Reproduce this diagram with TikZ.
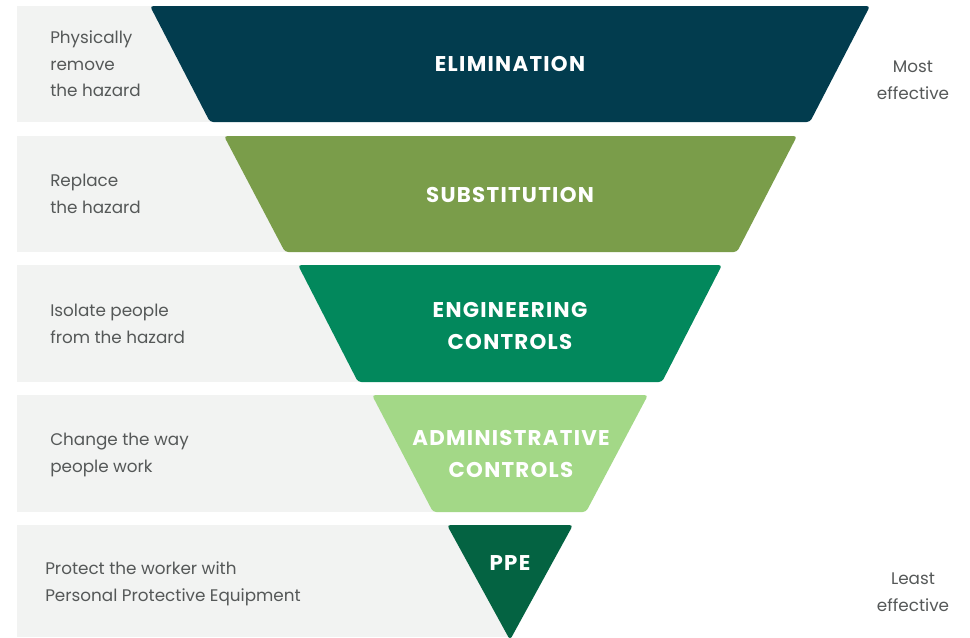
\documentclass[tikz,border=0pt]{standalone}
\usepackage{fontspec}
\setmainfont{Poppins}
\newfontfamily\headfont[LetterSpace=6]{Poppins}
\usepackage{xcolor}
\usepackage{tikz}

\definecolor{bandgrey}{HTML}{F2F3F2}
\definecolor{textgrey}{HTML}{555858}
\definecolor{elimcol}{HTML}{023C4E}
\definecolor{substcol}{HTML}{7A9D4A}
\definecolor{engcol}{HTML}{02885C}
\definecolor{admincol}{HTML}{A3D887}
\definecolor{ppecol}{HTML}{046342}

\tikzset{
  band/.style={fill=bandgrey},
  level/.style={rounded corners=2.5pt},
  leveltext/.style={text=white, align=center,
    font=\headfont\bfseries\fontsize{16}{23.5}\selectfont},
  sidetext/.style={text=textgrey, align=left, anchor=west, inner sep=0pt,
    font=\fontsize{12.6}{20}\selectfont},
  ratetext/.style={text=textgrey, align=center, inner sep=0pt,
    font=\fontsize{12.6}{20}\selectfont}
}

\begin{document}
\begin{tikzpicture}[x=0.75pt, y=-0.75pt]
\useasboundingbox (0,0) rectangle (970,637);

% grey bands behind the levels
\fill[band] (17,6) rectangle (510,122);
\fill[band] (17,136) rectangle (510,252);
\fill[band] (17,265) rectangle (510,382);
\fill[band] (17,395) rectangle (510,512);
\fill[band] (17,525) rectangle (510,637);

% the inverted pyramid
\fill[elimcol, level] (150,6) -- (870,6) -- (810,122) -- (210,122) -- cycle;
\fill[substcol, level] (224,136) -- (797,136) -- (737,252) -- (285,252) -- cycle;
\fill[engcol, level] (298,265) -- (722,265) -- (662,382) -- (358,382) -- cycle;
\fill[admincol, level] (372,395) -- (648,395) -- (586,512) -- (433,512) -- cycle;
\fill[ppecol, level] (447,525) -- (573,525) -- (510,640) -- cycle;

% level names
\node[leveltext] (elim) at (510,64) {ELIMINATION};
\node[leveltext] (subst) at (510,195) {SUBSTITUTION};
\node[leveltext] (eng) at (510,326) {ENGINEERING\\CONTROLS};
\node[leveltext] (admin) at (511,454) {ADMINISTRATIVE\\CONTROLS};
\node[leveltext] (ppe) at (510,563) {PPE};

% descriptions
\node[sidetext] (elimdesc) at (50,64) {Physically\\remove\\the hazard};
\node[sidetext] (substdesc) at (50,194) {Replace\\the hazard};
\node[sidetext] (engdesc) at (50,324) {Isolate people\\from the hazard};
\node[sidetext] (admindesc) at (50,455) {Change the way\\people work};
\node[sidetext] (ppedesc) at (45,584) {Protect the worker with\\Personal Protective Equipment};

% effectiveness scale
\node[ratetext] (most) at (913,80) {Most\\effective};
\node[ratetext] (least) at (913,592) {Least\\effective};

\end{tikzpicture}
\end{document}
